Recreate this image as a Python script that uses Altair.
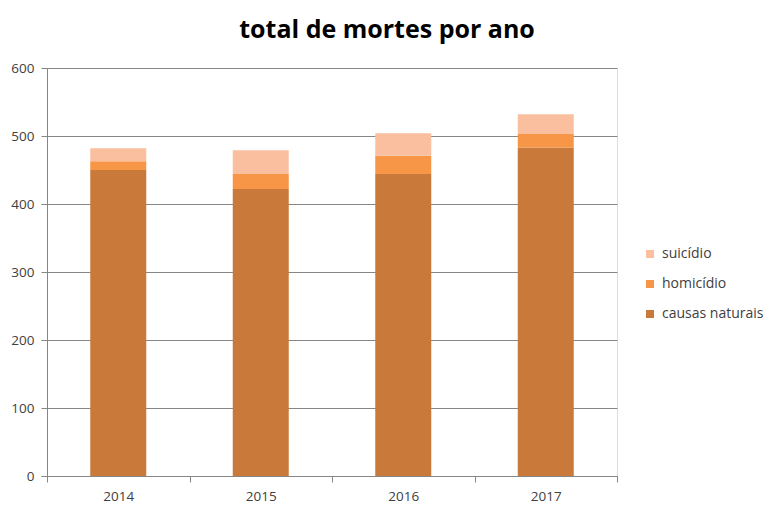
import altair as alt
import pandas as pd

years = ["2014", "2015", "2016", "2017"]
causas_naturais = [450, 422, 444, 483]
homicidio = [13, 22, 27, 20]
suicidio = [19, 35, 33, 29]

series = ["causas naturais", "homicídio", "suicídio"]
values = [causas_naturais, homicidio, suicidio]
legend_order = ["suicídio", "homicídio", "causas naturais"]
colors = ["#F9BF9F", "#F79646", "#C97A3A"]

rows = []
for si, (name, vals) in enumerate(zip(series, values)):
    for y, v in zip(years, vals):
        rows.append({"ano": y, "tipo": name, "mortes": v, "ord": si})
df = pd.DataFrame(rows)

FONT = "Open Sans"

chart = alt.Chart(df).mark_bar(size=56).encode(
    x=alt.X("ano:N", title=None, sort=years,
            scale=alt.Scale(paddingInner=0, paddingOuter=0),
            axis=alt.Axis(labelAngle=0, tickBand="extent", grid=False,
                          domainColor="#868686", tickColor="#868686",
                          tickSize=6, labelColor="#404040",
                          labelFontSize=13.5, labelFont=FONT, labelPadding=7)),
    y=alt.Y("mortes:Q", title=None, stack="zero",
            scale=alt.Scale(domain=[0, 600], nice=False),
            axis=alt.Axis(values=[0, 100, 200, 300, 400, 500, 600],
                          gridColor="#868686", domainColor="#868686",
                          tickColor="#868686", tickSize=6,
                          labelColor="#404040", labelFontSize=13.5,
                          labelFont=FONT, labelPadding=7)),
    color=alt.Color("tipo:N",
                    scale=alt.Scale(domain=legend_order, range=colors),
                    legend=alt.Legend(title=None, orient="none",
                                      legendX=596, legendY=179,
                                      symbolType="square", symbolSize=64,
                                      symbolStrokeWidth=0,
                                      labelFontSize=14, labelFont=FONT,
                                      labelColor="#404040",
                                      rowPadding=16, labelOffset=5)),
    order=alt.Order("ord:Q", sort="ascending"),
).properties(
    width=570,
    height=408,
    title=alt.TitleParams("total de mortes por ano", font=FONT,
                          fontSize=25, fontWeight="bold", color="#000000",
                          anchor="middle", dx=55, offset=18),
    padding={"left": 47, "top": 68, "right": 157, "bottom": 40},
    autosize=alt.AutoSizeParams(type="none"),
).configure_view(stroke=None).configure(background="white")

chart.save("out.html", embed_options={"renderer": "svg", "actions": False})
